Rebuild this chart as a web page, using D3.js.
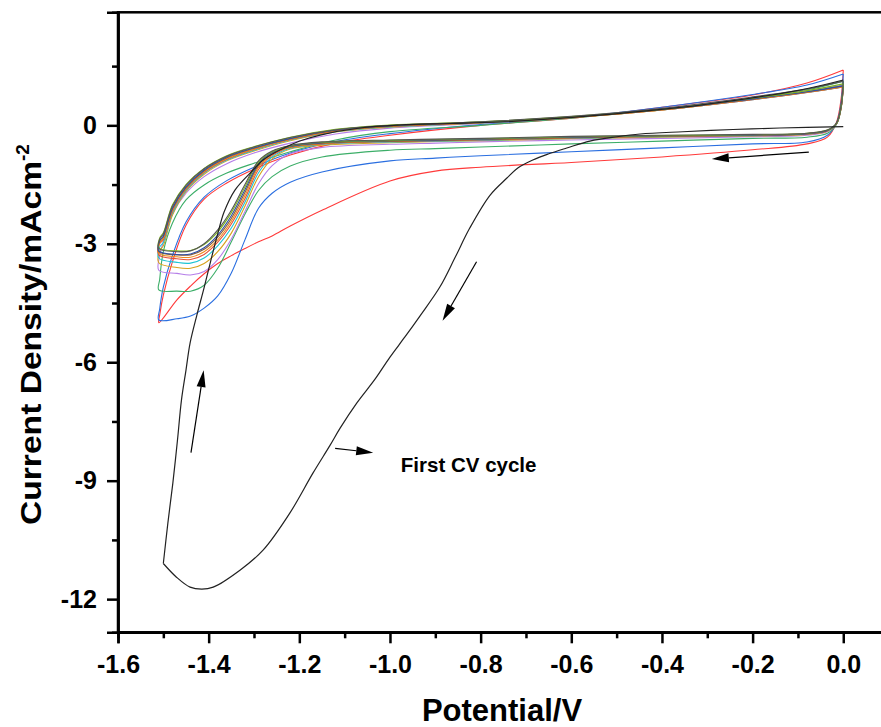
<!DOCTYPE html>
<html>
<head>
<meta charset="utf-8">
<script src="https://cdn.jsdelivr.net/npm/d3@7"></script>
<style>
  html, body { margin: 0; padding: 0; background: #fff; }
  svg { display: block; }
  text { font-family: "Liberation Sans", Arial, sans-serif; font-weight: bold; fill: #000; }
</style>
</head>
<body>
<svg id="chart" width="881" height="727"></svg>
<script>
// ---------- DATA ----------
// shared potential sweep (V): cathodic 0 -> -1.51, then anodic back to 0
const potential = [0.0, -0.005, -0.015, -0.035, -0.08, -0.2, -0.4, -0.6, -0.8, -0.9, -1.0, -1.15, -1.22, -1.26, -1.29, -1.32, -1.35, -1.38, -1.41, -1.44, -1.47, -1.51,
                   -1.508, -1.50, -1.48, -1.45, -1.41, -1.36, -1.30, -1.22, -1.12, -1.0, -0.8, -0.6, -0.4, -0.2, -0.08, 0.0];

// current density (mA cm^-2) of each later cycle, one value per potential
const cycleRed    = [1.4, 0.65, 0.08, -0.3, -0.47, -0.62, -0.8, -0.94, -1.06, -1.16, -1.41, -2.15, -2.55, -2.8, -2.95, -3.12, -3.3, -3.5, -3.76, -4.07, -4.42, -5.0,
                     -4.8, -4.3, -3.46, -2.53, -1.87, -1.46, -1.11, -0.75, -0.45, -0.25, 0.0, 0.18, 0.46, 0.77, 1.07, 1.4];
const cycleBlue   = [1.3, 0.55, 0.05, -0.25, -0.42, -0.47, -0.57, -0.67, -0.77, -0.83, -0.9, -1.18, -1.44, -1.72, -2.1, -2.9, -3.74, -4.32, -4.63, -4.83, -4.9, -4.93,
                     -4.65, -4.1, -3.3, -2.45, -1.82, -1.4, -1.06, -0.7, -0.41, -0.21, 0.02, 0.2, 0.46, 0.78, 1.02, 1.3];
const cycleGreen  = [1.12, 0.46, 0.03, -0.2, -0.3, -0.33, -0.4, -0.47, -0.55, -0.59, -0.63, -0.8, -1.03, -1.3, -1.65, -2.25, -2.95, -3.62, -4.05, -4.2, -4.2, -4.17,
                     -3.9, -3.2, -2.48, -1.89, -1.51, -1.21, -0.96, -0.67, -0.37, -0.16, 0.0, 0.18, 0.4, 0.68, 0.9, 1.12];
const cyclePurple = [1.02, 0.44, 0.03, -0.16, -0.25, -0.29, -0.33, -0.37, -0.42, -0.45, -0.48, -0.56, -0.72, -1.02, -1.48, -2.18, -2.88, -3.4, -3.7, -3.79, -3.75, -3.67,
                     -3.3, -2.95, -2.25, -1.72, -1.3, -0.97, -0.7, -0.45, -0.22, -0.07, 0.05, 0.2, 0.42, 0.7, 0.88, 1.02];
const cycleGold   = [0.98, 0.42, 0.03, -0.15, -0.23, -0.27, -0.3, -0.34, -0.39, -0.41, -0.44, -0.5, -0.6, -0.85, -1.3, -2.05, -2.73, -3.2, -3.5, -3.62, -3.6, -3.48,
                     -3.18, -3.05, -2.28, -1.68, -1.24, -0.9, -0.65, -0.39, -0.17, -0.05, 0.06, 0.2, 0.39, 0.66, 0.84, 0.98];
const cycleCyan   = [0.97, 0.42, 0.03, -0.14, -0.22, -0.26, -0.29, -0.33, -0.38, -0.4, -0.42, -0.48, -0.58, -0.8, -1.2, -1.95, -2.6, -3.05, -3.36, -3.49, -3.47, -3.36,
                     -3.08, -2.97, -2.22, -1.65, -1.21, -0.88, -0.63, -0.37, -0.16, -0.04, 0.06, 0.2, 0.39, 0.65, 0.83, 0.97];
const cycleRed2   = [0.97, 0.43, 0.04, -0.14, -0.22, -0.26, -0.28, -0.32, -0.37, -0.39, -0.41, -0.47, -0.56, -0.76, -1.12, -1.86, -2.5, -2.96, -3.27, -3.4, -3.38, -3.28,
                     -3.0, -2.9, -2.18, -1.62, -1.19, -0.86, -0.61, -0.36, -0.15, -0.03, 0.07, 0.2, 0.39, 0.65, 0.83, 0.97];
const cycleOrange = [0.98, 0.43, 0.04, -0.13, -0.21, -0.25, -0.28, -0.31, -0.36, -0.38, -0.4, -0.46, -0.55, -0.73, -1.06, -1.78, -2.43, -2.9, -3.2, -3.34, -3.33, -3.24,
                     -2.97, -2.86, -2.15, -1.6, -1.17, -0.84, -0.6, -0.35, -0.14, -0.03, 0.07, 0.2, 0.39, 0.66, 0.84, 0.98];
const cycleBrown  = [1.0, 0.44, 0.04, -0.13, -0.21, -0.25, -0.27, -0.31, -0.36, -0.38, -0.4, -0.45, -0.54, -0.71, -1.01, -1.7, -2.36, -2.83, -3.14, -3.28, -3.28, -3.2,
                     -2.93, -2.82, -2.12, -1.58, -1.15, -0.82, -0.58, -0.34, -0.13, -0.02, 0.08, 0.21, 0.4, 0.67, 0.85, 1.0];
const cycleNavy   = [1.0, 0.45, 0.05, -0.13, -0.21, -0.25, -0.27, -0.3, -0.35, -0.37, -0.39, -0.44, -0.53, -0.69, -0.97, -1.63, -2.29, -2.78, -3.1, -3.26, -3.27, -3.18,
                     -2.92, -2.8, -2.1, -1.56, -1.13, -0.8, -0.57, -0.33, -0.12, -0.01, 0.08, 0.21, 0.4, 0.67, 0.85, 1.0];
const cycleOlive  = [1.05, 0.47, 0.05, -0.12, -0.2, -0.24, -0.26, -0.29, -0.34, -0.36, -0.38, -0.43, -0.52, -0.67, -0.93, -1.56, -2.21, -2.7, -3.02, -3.17, -3.18, -3.1,
                     -2.85, -2.72, -2.02, -1.5, -1.09, -0.77, -0.54, -0.3, -0.1, 0.01, 0.09, 0.22, 0.41, 0.69, 0.88, 1.05];
const cycleGray   = [1.12, 0.5, 0.06, -0.12, -0.2, -0.23, -0.25, -0.28, -0.33, -0.35, -0.37, -0.42, -0.51, -0.65, -0.9, -1.5, -2.15, -2.65, -3.0, -3.18, -3.2, -3.12,
                     -2.88, -2.75, -2.05, -1.52, -1.1, -0.78, -0.55, -0.31, -0.11, 0.0, 0.09, 0.23, 0.43, 0.72, 0.92, 1.12];

const cycleColors = ["#ff3a3a", "#2b6fe0", "#3cae68", "#b57ee8", "#d8a21c", "#1fc4d4", "#e4513a", "#f08a1c", "#8b5e34", "#2c4fa8", "#7cb51e", "#555555"];

// first CV cycle (black): cathodic sweep then anodic return
const firstCathE = [0.0, -0.14, -0.243, -0.354, -0.448, -0.499, -0.559, -0.61, -0.651, -0.685, -0.718, -0.742, -0.779, -0.824, -0.857, -0.89, -0.934, -0.967, -1.0, -1.033, -1.073, -1.11, -1.132, -1.17, -1.221, -1.28, -1.331, -1.39, -1.415, -1.441, -1.471, -1.5];
const firstCathI = [-0.035, -0.068, -0.106, -0.162, -0.22, -0.289, -0.398, -0.575, -0.727, -0.879, -1.082, -1.335, -1.766, -2.602, -3.362, -4.096, -4.831, -5.36, -5.87, -6.43, -7.03, -7.67, -8.1, -8.809, -9.822, -10.76, -11.267, -11.697, -11.748, -11.697, -11.444, -11.097];
const firstAnodE = [-1.5, -1.49, -1.479, -1.469, -1.46, -1.45, -1.441, -1.426, -1.41, -1.395, -1.379, -1.366, -1.342, -1.302, -1.28, -1.243, -1.199, -1.154, -1.066, -0.978, -0.868, -0.757, -0.537, -0.316, -0.096, 0.0];
const firstAnodI = [-11.097, -10.075, -9.06, -7.996, -6.958, -6.198, -5.514, -4.805, -4.109, -3.412, -2.703, -2.196, -1.639, -1.132, -0.879, -0.626, -0.398, -0.246, -0.068, 0.008, 0.046, 0.084, 0.261, 0.514, 0.894, 1.148];

// axis ticks
const xMajorTicks = [-1.6, -1.4, -1.2, -1.0, -0.8, -0.6, -0.4, -0.2, 0.0];
const xMinorTicks = [-1.5, -1.3, -1.1, -0.9, -0.7, -0.5, -0.3, -0.1];
const yMajorTicks = [-12, -9, -6, -3, 0];
const yMinorTicks = [-10.5, -7.5, -4.5, -1.5, 1.5];

// annotations: [fromE, fromI, tipE, tipI]
const arrows = [
  [-0.076, -0.676, -0.29, -0.854],
  [-0.809, -3.455, -0.884, -4.95],
  [-1.439, -8.29, -1.411, -6.2],
  [-1.121, -8.18, -1.037, -8.29]
];
const noteText = "First CV cycle";
const notePos = [-0.976, -8.78];

// ---------- CHART ----------
const svg = d3.select("#chart");
const x = d3.scaleLinear().domain([-1.6, 0.1]).range([118, 888.6]);
const y = d3.scaleLinear().domain([-12.84, 2.863]).range([632.3, 12.3]);

svg.append("defs").append("clipPath").attr("id", "clip")
  .append("rect").attr("x", 118).attr("y", 12.3).attr("width", 770).attr("height", 620);

const plot = svg.append("g").attr("clip-path", "url(#clip)");
const line = d3.line().x(d => x(d[0])).y(d => y(d[1])).curve(d3.curveCatmullRom.alpha(0.5));

const cycles = [cycleRed, cycleBlue, cycleGreen, cyclePurple, cycleGold, cycleCyan, cycleRed2, cycleOrange, cycleBrown, cycleNavy, cycleOlive, cycleGray];
cycles.forEach((vals, i) => {
  plot.append("path")
    .datum(potential.map((e, k) => [e, vals[k]]))
    .attr("d", line)
    .attr("fill", "none")
    .attr("stroke", cycleColors[i])
    .attr("stroke-width", 1.1);
});

[[firstCathE, firstCathI], [firstAnodE, firstAnodI]].forEach(([es, is]) => {
  plot.append("path")
    .datum(es.map((e, k) => [e, is[k]]))
    .attr("d", line)
    .attr("fill", "none")
    .attr("stroke", "#222")
    .attr("stroke-width", 1.2)
    .attr("stroke-linejoin", "miter");
});

// arrows
arrows.forEach(a => {
  const x1 = x(a[0]), y1 = y(a[1]), x2 = x(a[2]), y2 = y(a[3]);
  const dx = x2 - x1, dy = y2 - y1, len = Math.hypot(dx, dy);
  const ux = dx / len, uy = dy / len;
  const hl = 17, hw = 4.5;
  const bx = x2 - ux * hl, by = y2 - uy * hl;
  svg.append("line").attr("x1", x1).attr("y1", y1).attr("x2", bx).attr("y2", by)
    .attr("stroke", "#000").attr("stroke-width", 1.2);
  svg.append("path")
    .attr("d", `M${x2},${y2}L${bx - uy * hw},${by + ux * hw}L${bx + uy * hw},${by - ux * hw}Z`)
    .attr("fill", "#000");
});
svg.append("text").attr("x", x(notePos[0])).attr("y", y(notePos[1]))
  .attr("font-size", 20.5).text(noteText);

// frame
svg.append("rect").attr("x", 118).attr("y", 12.3).attr("width", 770.6).attr("height", 620)
  .attr("fill", "none").attr("stroke", "#000").attr("stroke-width", 2.5);

// axes
const xAxis = svg.append("g").attr("transform", "translate(0,632.3)")
  .call(d3.axisBottom(x).tickValues(xMajorTicks).tickSize(11).tickPadding(12).tickFormat(d3.format(".1f")));
const xAxisMinor = svg.append("g").attr("transform", "translate(0,632.3)")
  .call(d3.axisBottom(x).tickValues(xMinorTicks).tickSize(6).tickFormat(""));
const yAxis = svg.append("g").attr("transform", "translate(118,0)")
  .call(d3.axisLeft(y).tickValues(yMajorTicks).tickSize(11).tickPadding(10).tickFormat(d3.format("d")));
const yAxisMinor = svg.append("g").attr("transform", "translate(118,0)")
  .call(d3.axisLeft(y).tickValues(yMinorTicks).tickSize(6).tickFormat(""));

[xAxis, xAxisMinor, yAxis, yAxisMinor].forEach(g => {
  g.select(".domain").attr("stroke-width", 2.5).attr("stroke", "#000");
  g.selectAll(".tick line").attr("stroke-width", 2.5).attr("stroke", "#000");
  g.selectAll(".tick text").attr("font-size", 25).attr("font-family", "'Liberation Sans', Arial, sans-serif")
    .attr("font-weight", "bold").attr("fill", "#000");
});
xAxis.selectAll(".tick text").text(d => d3.format(".1f")(d).replace("−", "-"));
yAxis.selectAll(".tick text").text(d => String(d));

// axis titles
svg.append("text").attr("x", 502).attr("y", 721).attr("text-anchor", "middle")
  .attr("font-size", 31).text("Potential/V");

const yt = svg.append("text").attr("transform", "translate(41,525) rotate(-90)")
  .attr("text-anchor", "start").attr("font-size", 30);
yt.append("tspan").attr("textLength", 364).attr("lengthAdjust", "spacingAndGlyphs").text("Current Density/mAcm");
yt.append("tspan").attr("font-size", 19).attr("dy", -12).text("-2");
</script>
</body>
</html>
